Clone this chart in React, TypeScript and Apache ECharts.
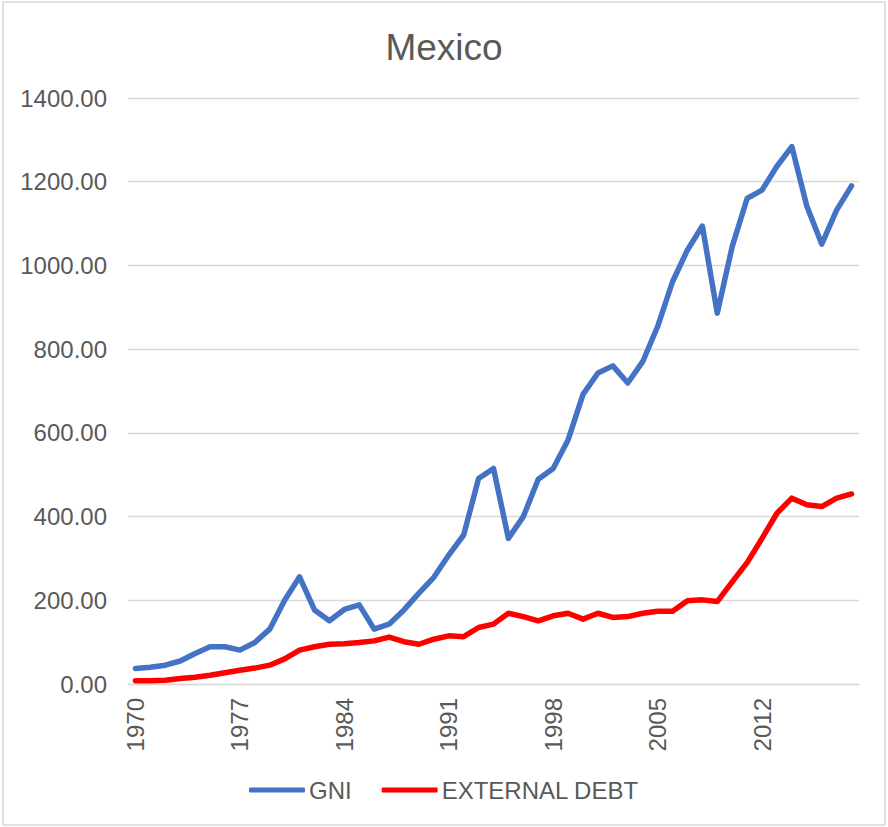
import React, { useEffect, useRef } from "react";
import * as echarts from "echarts";

// Years 1970–2018
const years: string[] = [];
for (let y = 1970; y <= 2018; y++) years.push(String(y));

const gni = [
  37, 40, 45, 55, 73, 89, 89, 81, 99, 131,
  200, 256, 177, 151, 178, 189, 131, 143, 177, 217,
  255, 308, 356, 491, 515, 348, 400, 489, 515, 583,
  692, 743, 760, 719, 770, 854, 961, 1037, 1094, 886,
  1045, 1160, 1180, 1237, 1284, 1142, 1051, 1132, 1190,
];

const externalDebt = [
  8, 8, 9, 13, 16, 21, 27, 33, 38, 45,
  60, 81, 89, 95, 96, 99, 103, 112, 101, 95,
  107, 115, 113, 135, 143, 169, 161, 151, 163, 169,
  155, 169, 159, 161, 169, 174, 174, 199, 201, 197,
  244, 290, 348, 408, 444, 428, 424, 444, 454,
];

const FONT = "'Liberation Sans', Arial, sans-serif";
const TEXT = "#595959";

export default function App() {
  const ref = useRef<HTMLDivElement>(null);

  useEffect(() => {
    if (!ref.current) return;
    const chart = echarts.init(ref.current, undefined, { renderer: "svg" });
    chart.setOption({
      animation: false,
      backgroundColor: "#ffffff",
      textStyle: { fontFamily: FONT, color: TEXT },
      graphic: [
        {
          type: "rect",
          shape: { x: 3, y: 2, width: 882, height: 823 },
          style: { fill: "none", stroke: "#d9d9d9", lineWidth: 1.5 },
          silent: true,
        },
      ],
      title: {
        text: "Mexico",
        left: "center",
        top: 24,
        textStyle: { fontFamily: FONT, color: TEXT, fontSize: 37, fontWeight: "normal" },
      },
      legend: {
        bottom: 20,
        left: "center",
        icon: "roundRect",
        itemWidth: 56,
        itemHeight: 5,
        itemGap: 30,
        textStyle: { fontFamily: FONT, color: TEXT, fontSize: 24, padding: [0, 0, 0, -1] },
        data: ["GNI", "EXTERNAL DEBT"],
      },
      grid: { left: 128, right: 29, top: 98, bottom: 143, containLabel: false },
      xAxis: {
        type: "category",
        data: years,
        boundaryGap: true,
        axisLine: { lineStyle: { color: "#d9d9d9", width: 1.3 } },
        axisTick: { show: false },
        axisLabel: {
          interval: 6,
          rotate: 90,
          margin: 14,
          fontFamily: FONT,
          color: TEXT,
          fontSize: 24,
        },
      },
      yAxis: {
        type: "value",
        min: 0,
        max: 1400,
        interval: 200,
        axisLine: { show: false },
        axisTick: { show: false },
        splitLine: { lineStyle: { color: "#d9d9d9", width: 1.3 } },
        axisLabel: {
          margin: 21,
          fontFamily: FONT,
          color: TEXT,
          fontSize: 24,
          formatter: (v: number) => v.toFixed(2),
        },
      },
      series: [
        {
          name: "GNI",
          type: "line",
          data: gni,
          symbol: "none",
          itemStyle: { color: "#4472C4" },
          lineStyle: { color: "#4472C4", width: 5.5, cap: "round", join: "round" },
        },
        {
          name: "EXTERNAL DEBT",
          type: "line",
          data: externalDebt,
          symbol: "none",
          itemStyle: { color: "#FF0000" },
          lineStyle: { color: "#FF0000", width: 5.5, cap: "round", join: "round" },
        },
      ],
    });
    return () => chart.dispose();
  }, []);

  return (
    <div
      ref={ref}
      style={{ position: "absolute", left: 0, top: 0, width: 888, height: 827 }}
    />
  );
}
